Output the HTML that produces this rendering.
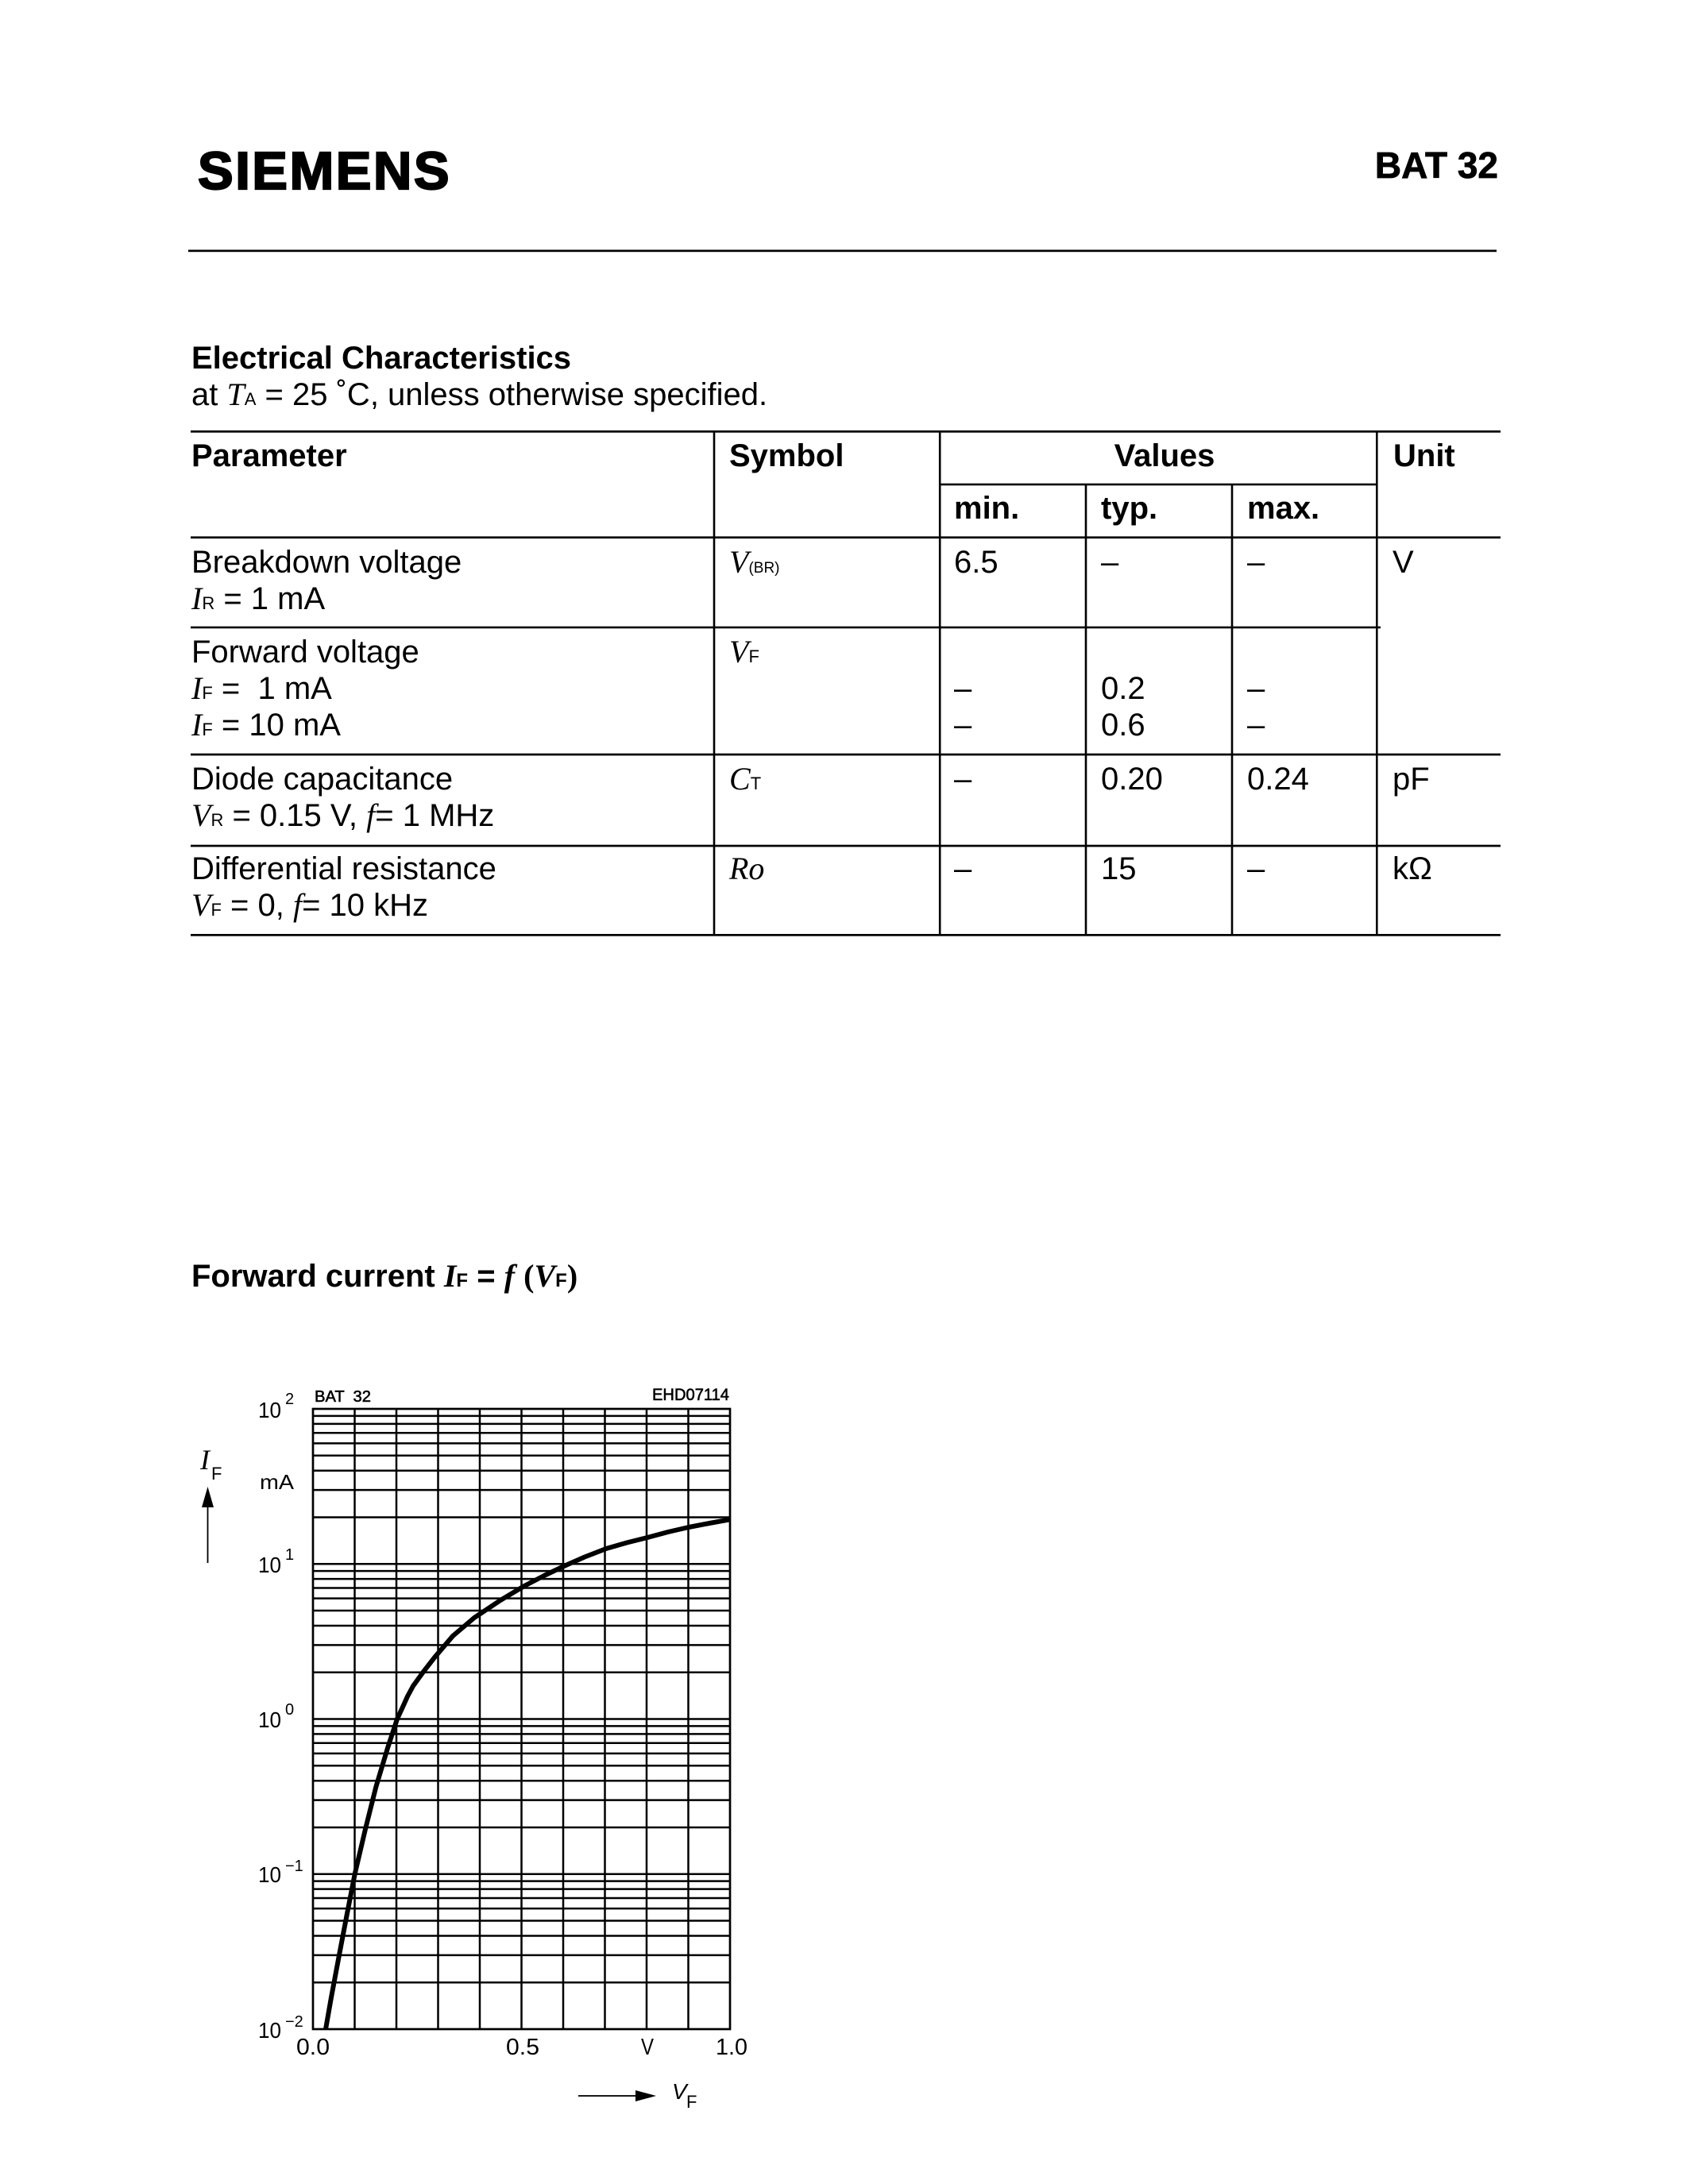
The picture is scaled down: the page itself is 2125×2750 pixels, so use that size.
<!DOCTYPE html>
<html>
<head>
<meta charset="utf-8">
<style>
html,body{margin:0;padding:0;background:#fff;}
svg{display:block;}
.t{font-family:"Liberation Sans",Arial,sans-serif;fill:#000;}
.b{font-weight:bold;}
.s{font-family:"Liberation Serif","Times New Roman",serif;font-style:italic;}
.pre{white-space:pre;}
</style>
</head>
<body>
<svg width="2125" height="2750" viewBox="0 0 2125 2750" xmlns="http://www.w3.org/2000/svg">
<rect width="2125" height="2750" fill="#fff"/>

<!-- Header -->
<text class="t b" x="249" y="238" font-size="67" letter-spacing="2.5" stroke="#000" stroke-width="2.2">SIEMENS</text>
<text class="t b" x="1886" y="224" font-size="46" text-anchor="end" stroke="#000" stroke-width="0.8">BAT 32</text>
<rect x="237" y="314.5" width="1647" height="2.7" fill="#000"/>

<!-- Section title -->
<text class="t b" x="241" y="464" font-size="40">Electrical Characteristics</text>
<text class="t" x="241" y="510" font-size="40">at <tspan class="s">T</tspan><tspan font-size="22">A</tspan> = 25 ˚C, unless otherwise specified.</text>

<!-- Table lines -->
<g fill="#000">
<rect x="240" y="542" width="1649" height="2.7"/>
<rect x="1183" y="608.7" width="550" height="2.6"/>
<rect x="240" y="675.4" width="1649" height="2.7"/>
<rect x="240" y="788.7" width="1498" height="2.6"/>
<rect x="240" y="948.7" width="1649" height="2.7"/>
<rect x="240" y="1063.7" width="1649" height="2.7"/>
<rect x="240" y="1176" width="1649" height="2.7"/>
<rect x="897.7" y="542" width="2.6" height="636"/>
<rect x="1181.9" y="542" width="2.6" height="636"/>
<rect x="1365.7" y="609" width="2.6" height="569"/>
<rect x="1549.7" y="609" width="2.6" height="569"/>
<rect x="1732" y="542" width="2.6" height="636"/>
</g>

<!-- Table header -->
<g class="t b" font-size="40">
<text x="241" y="587">Parameter</text>
<text x="918" y="587">Symbol</text>
<text x="1466" y="587" text-anchor="middle">Values</text>
<text x="1754" y="587">Unit</text>
<text x="1201" y="653">min.</text>
<text x="1386" y="653">typ.</text>
<text x="1570" y="653">max.</text>
</g>

<!-- Table body -->
<g class="t" font-size="40">
<!-- Row 1 -->
<text x="241" y="721">Breakdown voltage</text>
<text x="241" y="767"><tspan class="s">I</tspan><tspan font-size="22">R</tspan> = 1 mA</text>
<text x="918" y="721"><tspan class="s">V</tspan><tspan font-size="19">(BR)</tspan></text>
<text x="1201" y="721">6.5</text>
<text x="1386" y="721">–</text>
<text x="1570" y="721">–</text>
<text x="1753" y="721">V</text>
<!-- Row 2 -->
<text x="241" y="834">Forward voltage</text>
<text class="pre" x="241" y="880" xml:space="preserve"><tspan class="s">I</tspan><tspan font-size="22">F</tspan> =  1 mA</text>
<text x="241" y="926"><tspan class="s">I</tspan><tspan font-size="22">F</tspan> = 10 mA</text>
<text x="918" y="834"><tspan class="s">V</tspan><tspan font-size="22">F</tspan></text>
<text x="1201" y="880">–</text>
<text x="1201" y="926">–</text>
<text x="1386" y="880">0.2</text>
<text x="1386" y="926">0.6</text>
<text x="1570" y="880">–</text>
<text x="1570" y="926">–</text>
<!-- Row 3 -->
<text x="241" y="994">Diode capacitance</text>
<text x="241" y="1040"><tspan class="s">V</tspan><tspan font-size="22">R</tspan> = 0.15 V, <tspan class="s">f</tspan>= 1 MHz</text>
<text x="918" y="994"><tspan class="s">C</tspan><tspan font-size="22">T</tspan></text>
<text x="1201" y="994">–</text>
<text x="1386" y="994">0.20</text>
<text x="1570" y="994">0.24</text>
<text x="1753" y="994">pF</text>
<!-- Row 4 -->
<text x="241" y="1107">Differential resistance</text>
<text x="241" y="1153"><tspan class="s">V</tspan><tspan font-size="22">F</tspan> = 0, <tspan class="s">f</tspan>= 10 kHz</text>
<text x="918" y="1107"><tspan class="s">Ro</tspan></text>
<text x="1201" y="1107">–</text>
<text x="1386" y="1107">15</text>
<text x="1570" y="1107">–</text>
<text x="1753" y="1107">kΩ</text>
</g>

<!-- Chart title -->
<text class="t b" x="241" y="1620" font-size="40">Forward current <tspan class="s" font-weight="bold">I</tspan><tspan font-size="24">F</tspan> = <tspan class="s" font-weight="bold">f</tspan> <tspan font-family="'Liberation Serif',serif">(</tspan><tspan class="s" font-weight="bold">V</tspan><tspan font-size="24">F</tspan><tspan font-family="'Liberation Serif',serif">)</tspan></text>

<!-- Chart labels -->
<g class="t">
<text x="396" y="1765" font-size="20" textLength="71" lengthAdjust="spacingAndGlyphs" xml:space="preserve" stroke="#000" stroke-width="0.6">BAT  32</text>
<text x="821" y="1763" font-size="21" textLength="97" lengthAdjust="spacingAndGlyphs" stroke="#000" stroke-width="0.6">EHD07114</text>

<text x="325" y="1785" font-size="28" textLength="29" lengthAdjust="spacingAndGlyphs">10</text>
<text x="359" y="1768" font-size="20">2</text>
<text x="325" y="1980" font-size="28" textLength="29" lengthAdjust="spacingAndGlyphs">10</text>
<text x="359" y="1964" font-size="20">1</text>
<text x="325" y="2175" font-size="28" textLength="29" lengthAdjust="spacingAndGlyphs">10</text>
<text x="359" y="2159" font-size="20">0</text>
<text x="325" y="2370" font-size="28" textLength="29" lengthAdjust="spacingAndGlyphs">10</text>
<text x="359" y="2356" font-size="20">−1</text>
<text x="325" y="2566" font-size="28" textLength="29" lengthAdjust="spacingAndGlyphs">10</text>
<text x="359" y="2552" font-size="20">−2</text>

<text x="327" y="1875" font-size="26" textLength="43" lengthAdjust="spacingAndGlyphs">mA</text>

<text x="373" y="2587" font-size="29" textLength="42" lengthAdjust="spacingAndGlyphs">0.0</text>
<text x="637" y="2587" font-size="29" textLength="42" lengthAdjust="spacingAndGlyphs">0.5</text>
<text x="807" y="2587" font-size="29" textLength="16" lengthAdjust="spacingAndGlyphs">V</text>
<text x="901" y="2587" font-size="29" textLength="40" lengthAdjust="spacingAndGlyphs">1.0</text>

<text x="252" y="1850" font-size="36" class="s">I</text>
<text x="266" y="1863" font-size="22">F</text>
<text x="846" y="2643" font-size="28" font-style="italic">V</text>
<text x="864" y="2654" font-size="22">F</text>
</g>

<!-- Axis arrows -->
<rect x="260.6" y="1896" width="1.8" height="72" fill="#000"/>
<polygon points="261.5,1872 254,1898 269,1898" fill="#000"/>
<rect x="728" y="2638.1" width="74" height="1.8" fill="#000"/>
<polygon points="826,2639 800,2632 800,2646" fill="#000"/>

<!-- Grid -->
<path fill="none" stroke="#000" stroke-width="2.5" d="
M394,1782.93H919 M394,1792.92H919 M394,1804.24H919 M394,1817.32H919 M394,1832.78H919 M394,1851.70H919 M394,1876.09H919 M394,1910.47H919 M394,1969.25H919
M394,1978.18H919 M394,1988.17H919 M394,1999.49H919 M394,2012.57H919 M394,2028.03H919 M394,2046.95H919 M394,2071.34H919 M394,2105.72H919 M394,2164.5H919
M394,2173.43H919 M394,2183.42H919 M394,2194.74H919 M394,2207.82H919 M394,2223.28H919 M394,2242.20H919 M394,2266.59H919 M394,2300.97H919 M394,2359.75H919
M394,2368.68H919 M394,2378.67H919 M394,2389.99H919 M394,2403.07H919 M394,2418.53H919 M394,2437.45H919 M394,2461.84H919 M394,2496.22H919
M446.5,1774V2555 M499,1774V2555 M551.5,1774V2555 M604,1774V2555 M656.5,1774V2555 M709,1774V2555 M761.5,1774V2555 M814,1774V2555 M866.5,1774V2555
"/>
<rect x="394" y="1774" width="525" height="781" fill="none" stroke="#000" stroke-width="2.7"/>

<!-- Curve -->
<polyline fill="none" stroke="#000" stroke-width="6" stroke-linejoin="round" stroke-linecap="butt" points="
410,2555 416.7,2516.7 426.7,2463.3 436.5,2412 446.7,2359.7 460,2303 473.3,2250 488.3,2200 500,2164.5 506.7,2150 513,2136 520,2123 533,2105 547,2087 570,2060 597,2037 630,2015 660,1997 685,1984 710,1972 736,1960.5 763,1950 789,1942.5 815,1936 841,1929 867,1923 893,1918 919,1913.3"/>
</svg>
</body>
</html>
